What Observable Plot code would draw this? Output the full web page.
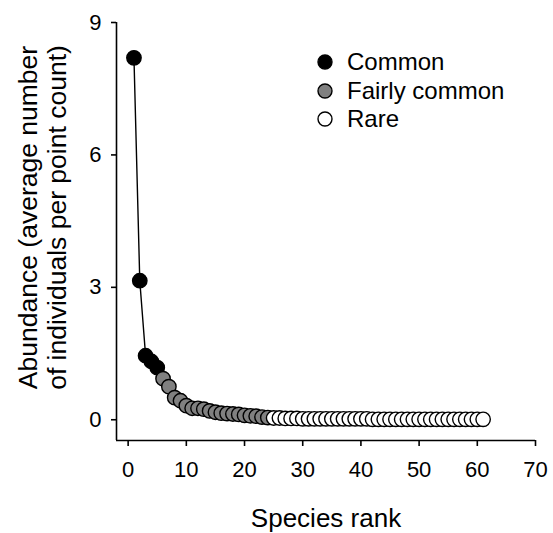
<!DOCTYPE html>
<html>
<head>
<meta charset="utf-8">
<script src="https://cdn.jsdelivr.net/npm/d3@7"></script>
<script src="https://cdn.jsdelivr.net/npm/@observablehq/plot@0.6"></script>
<style>
  html, body { margin: 0; padding: 0; background: #fff; }
  #wrap { position: relative; width: 553px; height: 533px; font-family: "Liberation Sans", Arial, sans-serif; }
  #legend { position: absolute; left: 316px; top: 48px; font-size: 24px; color: #000; }
  #legend .row { display: flex; align-items: center; height: 28.5px; }
  #legend svg { margin-right: 13px; }
</style>
</head>
<body>
<div id="wrap"></div>
<script>
// Abundance by commonness group, in rank order
const groupNames = ["Common", "Fairly common", "Rare"];
const groupFills = ["#000000", "#808080", "#ffffff"];
const common = [8.2, 3.15, 1.45, 1.32, 1.18];
const fairlyCommon = [0.93, 0.75, 0.5, 0.43, 0.32, 0.26, 0.26, 0.24, 0.2, 0.17, 0.15, 0.14, 0.13, 0.12, 0.1, 0.09, 0.08, 0.06, 0.05];
const rare = [0.04, 0.04, 0.03, 0.03, 0.03, 0.02, 0.02, 0.02, 0.02, 0.02, 0.02, 0.02, 0.02, 0.02, 0.02, 0.02, 0.02,
  0.01, 0.01, 0.01, 0.01, 0.01, 0.01, 0.01, 0.01, 0.01, 0.01, 0.01, 0.01, 0.01, 0.01, 0.01, 0.01, 0.01, 0.01, 0.01, 0.01];
const xTicks = [0, 10, 20, 30, 40, 50, 60, 70];
const yTicks = [0, 3, 6, 9];
const xDomain = [-2, 70];
const yDomain = [-0.47, 9];
const xTitle = "Species rank";
const yTitle = "Abundance (average number\nof individuals per point count)";

const data = [];
[common, fairlyCommon, rare].forEach((arr, g) => {
  arr.forEach(v => data.push({rank: data.length + 1, value: v, group: groupNames[g]}));
});

const chart = Plot.plot({
  width: 553,
  height: 533,
  marginLeft: 116,
  marginRight: 18,
  marginTop: 22,
  marginBottom: 93,
  style: {fontFamily: '"Liberation Sans", Arial, sans-serif', background: "#fff", color: "#000"},
  x: {domain: xDomain},
  y: {domain: yDomain},
  color: {domain: groupNames, range: groupFills},
  marks: [
    Plot.ruleX([xDomain[0]], {y1: yDomain[0], y2: yDomain[1], stroke: "#000", strokeWidth: 1.6}),
    Plot.ruleY([yDomain[0]], {x1: xDomain[0], x2: xDomain[1], stroke: "#000", strokeWidth: 1.6}),
    Plot.axisX({ticks: xTicks, tickSize: 6, tickPadding: 15, fontSize: 22, strokeWidth: 1.6, label: null, tickFormat: d => String(d)}),
    Plot.axisY({ticks: yTicks, tickSize: 5, tickPadding: 10, fontSize: 22, strokeWidth: 1.6, label: null, tickFormat: d => String(d)}),
    Plot.text([xTitle], {frameAnchor: "bottom", dy: 78, fontSize: 26, lineAnchor: "middle", textAnchor: "middle"}),
    Plot.text([yTitle], {frameAnchor: "left", rotate: -90, dx: -74, dy: -14, fontSize: 26.5, lineAnchor: "middle", textAnchor: "middle", lineHeight: 1.06}),
    Plot.line(data, {x: "rank", y: "value", stroke: "#000", strokeWidth: 1.4}),
    Plot.dot(data, {x: "rank", y: "value", r: 7.2, fill: "group", stroke: "#000", strokeWidth: 1.4})
  ]
});

const wrap = document.getElementById("wrap");
wrap.appendChild(chart);

const legend = document.createElement("div");
legend.id = "legend";
groupNames.forEach((name, i) => {
  const row = document.createElement("div");
  row.className = "row";
  row.innerHTML = `<svg width="18" height="18"><circle cx="9" cy="9" r="7" fill="${groupFills[i]}" stroke="#000" stroke-width="1.4"/></svg><span>${name}</span>`;
  legend.appendChild(row);
});
wrap.appendChild(legend);
</script>
</body>
</html>
